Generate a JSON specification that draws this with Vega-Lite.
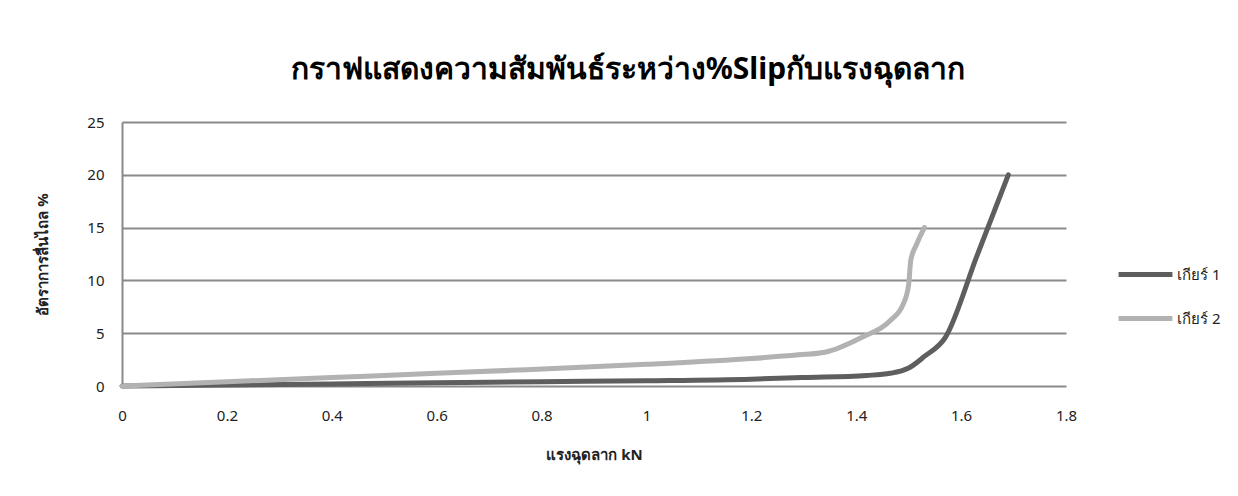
{
  "$schema": "https://vega.github.io/schema/vega-lite/v6.json",
  "autosize": {"type": "none"},
  "width": 944,
  "height": 264,
  "padding": {"left": 122, "top": 122, "right": 172, "bottom": 110},
  "background": "white",
  "title": {
    "text": "กราฟแสดงความสัมพันธ์ระหว่าง%Slipกับแรงฉุดลาก",
    "anchor": "middle",
    "frame": "group",
    "dx": 34,
    "offset": 30,
    "fontSize": 30,
    "fontWeight": "bold",
    "font": "Noto Sans",
    "color": "#000000"
  },
  "data": {
    "values": [
      {"gear": "เกียร์ 1", "force": 0, "slip": 0},
      {"gear": "เกียร์ 1", "force": 0.2, "slip": 0.1},
      {"gear": "เกียร์ 1", "force": 0.4, "slip": 0.2},
      {"gear": "เกียร์ 1", "force": 0.6, "slip": 0.3},
      {"gear": "เกียร์ 1", "force": 0.8, "slip": 0.4},
      {"gear": "เกียร์ 1", "force": 1.0, "slip": 0.5},
      {"gear": "เกียร์ 1", "force": 1.2, "slip": 0.65},
      {"gear": "เกียร์ 1", "force": 1.3, "slip": 0.8},
      {"gear": "เกียร์ 1", "force": 1.42, "slip": 1.0},
      {"gear": "เกียร์ 1", "force": 1.465, "slip": 1.2},
      {"gear": "เกียร์ 1", "force": 1.5, "slip": 1.7},
      {"gear": "เกียร์ 1", "force": 1.53, "slip": 2.8},
      {"gear": "เกียร์ 1", "force": 1.57, "slip": 4.6},
      {"gear": "เกียร์ 1", "force": 1.63, "slip": 12.3},
      {"gear": "เกียร์ 1", "force": 1.69, "slip": 20},
      {"gear": "เกียร์ 2", "force": 0, "slip": 0},
      {"gear": "เกียร์ 2", "force": 0.2, "slip": 0.4},
      {"gear": "เกียร์ 2", "force": 0.4, "slip": 0.8},
      {"gear": "เกียร์ 2", "force": 0.6, "slip": 1.2},
      {"gear": "เกียร์ 2", "force": 0.74, "slip": 1.48},
      {"gear": "เกียร์ 2", "force": 1.0, "slip": 2.05},
      {"gear": "เกียร์ 2", "force": 1.2, "slip": 2.6},
      {"gear": "เกียร์ 2", "force": 1.29, "slip": 2.95},
      {"gear": "เกียร์ 2", "force": 1.34, "slip": 3.2},
      {"gear": "เกียร์ 2", "force": 1.41, "slip": 4.6},
      {"gear": "เกียร์ 2", "force": 1.465, "slip": 6.2},
      {"gear": "เกียร์ 2", "force": 1.49, "slip": 7.8},
      {"gear": "เกียร์ 2", "force": 1.5, "slip": 9.6},
      {"gear": "เกียร์ 2", "force": 1.504, "slip": 11.9},
      {"gear": "เกียร์ 2", "force": 1.515, "slip": 13.4},
      {"gear": "เกียร์ 2", "force": 1.53, "slip": 15}
    ]
  },
  "mark": {"type": "line", "interpolate": "monotone", "strokeWidth": 5, "strokeCap": "round", "strokeJoin": "round"},
  "encoding": {
    "x": {
      "field": "force",
      "type": "quantitative",
      "scale": {"domain": [0, 1.8], "nice": false, "zero": true},
      "axis": {
        "title": "แรงฉุดลาก kN",
        "values": [0, 0.2, 0.4, 0.6, 0.8, 1, 1.2, 1.4, 1.6, 1.8],
        "labelExpr": "datum.value == 0 ? '0' : format(datum.value, '.1~f')",
        "labelFlush": false,
        "grid": false,
        "domain": false,
        "ticks": false,
        "labelPadding": 22,
        "labelFontSize": 15,
        "labelColor": "#222222",
        "labelFont": "Noto Sans",
        "titleFont": "Noto Sans",
        "titleFontSize": 15,
        "titleFontWeight": "bold",
        "titleColor": "#222222",
        "titlePadding": 24
      }
    },
    "y": {
      "field": "slip",
      "type": "quantitative",
      "scale": {"domain": [0, 25], "nice": false},
      "axis": {
        "title": "อัตราการลื่นไถล %",
        "values": [0, 5, 10, 15, 20, 25],
        "grid": true,
        "gridColor": "#8a8a8a",
        "gridWidth": 2,
        "domain": true,
        "domainColor": "#8a8a8a",
        "domainWidth": 2,
        "ticks": false,
        "labelPadding": 18,
        "labelFontSize": 15,
        "labelColor": "#222222",
        "labelFont": "Noto Sans",
        "titleFont": "Noto Sans",
        "titleFontSize": 15,
        "titleFontWeight": "bold",
        "titleColor": "#222222",
        "titlePadding": 36
      }
    },
    "color": {
      "field": "gear",
      "type": "nominal",
      "scale": {"domain": ["เกียร์ 1", "เกียร์ 2"], "range": ["#5e5e5e", "#b2b2b2"]},
      "legend": {
        "title": null,
        "orient": "none",
        "legendX": 994,
        "legendY": 123,
        "symbolType": "stroke",
        "symbolSize": 2900,
        "symbolStrokeWidth": 5,
        "symbolOffset": 0,
        "labelOffset": 2,
        "rowPadding": 4,
        "labelFontSize": 15,
        "labelFont": "Noto Sans",
        "labelColor": "#222222"
      }
    }
  },
  "config": {
    "view": {"stroke": null}
  }
}
